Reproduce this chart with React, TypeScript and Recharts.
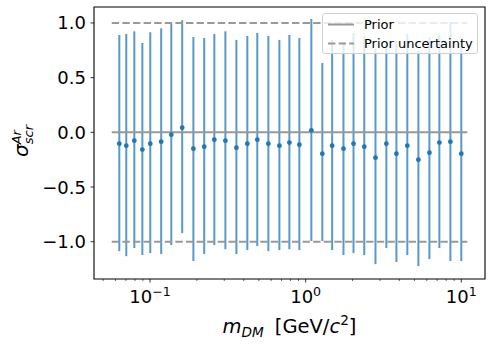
import React from 'react';
import {
  ComposedChart, Scatter, ErrorBar, XAxis, YAxis, ReferenceLine, ReferenceArea,
} from 'recharts';

const masses = [
  0.0635, 0.0704, 0.0793, 0.0893, 0.1004, 0.118, 0.137, 0.161, 0.19, 0.223,
  0.259, 0.305, 0.359, 0.422, 0.489, 0.576, 0.678, 0.786, 0.911, 1.088,
  1.28, 1.48, 1.75, 2.03, 2.38, 2.81, 3.3, 3.83, 4.5, 5.3,
  6.24, 7.23, 8.51, 10.0,
];
const centers = [
  -0.104, -0.122, -0.076, -0.158, -0.104, -0.085, -0.021, 0.043, -0.149, -0.131,
  -0.067, -0.076, -0.14, -0.104, -0.067, -0.104, -0.122, -0.094, -0.113, 0.018,
  -0.195, -0.122, -0.149, -0.104, -0.131, -0.232, -0.104, -0.195, -0.122, -0.25,
  -0.186, -0.094, -0.085, -0.195,
];
const uppers = [
  0.89, 0.899, 0.924, 0.817, 0.915, 0.951, 0.994, 1.025, 0.872, 0.863,
  0.899, 0.924, 0.845, 0.881, 0.909, 0.881, 0.845, 0.89, 0.863, 1.037,
  0.634, 0.845, 0.826, 0.909, 0.881, 0.762, 0.799, 0.835, 0.899, 0.744,
  0.872, 0.89, 1.009, 0.826,
];
const lowers = [
  -1.086, -1.132, -1.058, -1.122, -1.104, -1.113, -1.031, -0.921, -1.177, -1.113,
  -1.031, -1.068, -1.113, -1.077, -1.04, -1.086, -1.077, -1.068, -1.077, -0.994,
  -0.994, -1.077, -1.122, -1.104, -1.122, -1.205, -1.058, -1.186, -1.122, -1.223,
  -1.159, -1.058, -1.177, -1.177,
];
const priorValue = 0;
const priorUncertainty = [1, -1];
const hlineRange = [0.0568, 10.92];
const xDomain = [0.04367, 14.2];
const yDomain = [-1.341, 1.146];
const yTicks = [-1, -0.5, 0, 0.5, 1];
const yTickLabels = ['−1.0', '−0.5', '0.0', '0.5', '1.0'];
const xMajor = [0.1, 1, 10];
const xMajorLabels = ['−1', '0', '1'];
const xMinor = [0.05, 0.06, 0.07, 0.08, 0.09, 0.2, 0.3, 0.4, 0.5, 0.6, 0.7, 0.8, 0.9,
  2, 3, 4, 5, 6, 7, 8, 9];

const data = masses.map((m, i) => ({
  m,
  v: centers[i],
  err: [centers[i] - lowers[i], uppers[i] - centers[i]],
}));

const FONT = 'DejaVu Sans';
const BLUE = '#1f77b4';
const GRAY = '#999999';

const XTick = (props: any) => {
  const { x, y, payload } = props;
  const v = payload.value;
  const mi = xMajor.findIndex((t) => Math.abs(t - v) < 1e-9);
  const major = mi >= 0;
  return (
    <g>
      <line x1={x} x2={x} y1={y} y2={y + (major ? 3.5 : 2)} stroke="#000" strokeWidth={major ? 0.8 : 0.6} />
      {major && (
        <text x={x} y={y + 24} textAnchor="middle" fontFamily={FONT} fontSize={18} fill="#000">
          10<tspan dy={-7} fontSize={12.6}>{xMajorLabels[mi]}</tspan>
        </text>
      )}
    </g>
  );
};

const YTick = (props: any) => {
  const { x, y, payload } = props;
  const i = yTicks.findIndex((t) => Math.abs(t - payload.value) < 1e-9);
  return (
    <g>
      <line x1={x} x2={x - 3.5} y1={y} y2={y} stroke="#000" strokeWidth={0.8} />
      <text x={x - 8} y={y} dy="0.36em" textAnchor="end" fontFamily={FONT} fontSize={18} fill="#000">
        {yTickLabels[i]}
      </text>
    </g>
  );
};

const Dot = (props: any) => {
  const { cx, cy } = props;
  return <circle cx={cx} cy={cy} r={2.4} fill={BLUE} />;
};

export default function App() {
  return (
    <div style={{ position: 'absolute', left: 0, top: 0, width: 492, height: 344, background: '#fff' }}>
      <ComposedChart width={492} height={344} data={data} margin={{ top: 7, right: 7, bottom: 0, left: 0 }}>
        <XAxis
          dataKey="m"
          type="number"
          scale="log"
          domain={xDomain}
          allowDataOverflow
          ticks={[...xMinor, ...xMajor].sort((a, b) => a - b)}
          tick={<XTick />}
          tickLine={false}
          axisLine={false}
          tickSize={0}
          tickMargin={0}
          interval={0}
          height={65}
        />
        <YAxis
          dataKey="v"
          type="number"
          domain={yDomain}
          allowDataOverflow
          ticks={yTicks}
          tick={<YTick />}
          tickLine={false}
          axisLine={false}
          tickSize={0}
          tickMargin={0}
          interval={0}
          width={94}
        />
        <Scatter dataKey="v" isAnimationActive={false} shape={<Dot />}>
          <ErrorBar dataKey="err" direction="y" width={0} stroke={BLUE} strokeOpacity={0.75} strokeWidth={2} isAnimationActive={false} />
        </Scatter>
        <ReferenceLine
          segment={[{ x: hlineRange[0], y: priorValue }, { x: hlineRange[1], y: priorValue }]}
          stroke={GRAY}
          strokeWidth={2}
        />
        {priorUncertainty.map((u) => (
          <ReferenceLine
            key={u}
            segment={[{ x: hlineRange[0], y: u }, { x: hlineRange[1], y: u }]}
            stroke={GRAY}
            strokeWidth={2}
            strokeDasharray="7.4 3.2"
          />
        ))}
        <ReferenceArea
          x1={xDomain[0]}
          x2={xDomain[1]}
          y1={yDomain[0]}
          y2={yDomain[1]}
          fill="none"
          fillOpacity={0}
          stroke="#000"
          strokeWidth={1.1}
          strokeOpacity={1}
          ifOverflow="visible"
        />
      </ComposedChart>
      <svg width={492} height={344} style={{ position: 'absolute', left: 0, top: 0, pointerEvents: 'none' }}>
        <text
          x={28}
          y={141}
          transform="rotate(-90, 28, 141)"
          textAnchor="middle"
          fontFamily={FONT}
          fontStyle="italic"
          fontSize={20}
          fill="#000"
        >
          σ<tspan dy={-7} fontSize={13}>Ar</tspan>
          <tspan dx={-14.2} dy={11.7} fontSize={13}>scr</tspan>
        </text>
        <text x={289.5} y={333} textAnchor="middle" fontFamily={FONT} fontSize={19.5} fill="#000">
          <tspan fontStyle="italic">m</tspan>
          <tspan fontStyle="italic" fontSize={13.6} dy={3.5}>DM</tspan>
          <tspan dy={-3.5} dx={11}>[GeV/</tspan>
          <tspan fontStyle="italic">c</tspan>
          <tspan fontSize={13.6} dy={-8}>2</tspan>
          <tspan dy={8}>]</tspan>
        </text>
      </svg>
      <div
        style={{
          position: 'absolute', left: 322, top: 13, width: 156, height: 41,
          border: '1px solid #d0d0d0', borderRadius: 3, background: 'rgba(255,255,255,0.8)',
          fontFamily: FONT, fontSize: 13, color: '#000', boxSizing: 'border-box',
        }}
      >
        <svg width={30} height={40} style={{ position: 'absolute', left: 4, top: 0 }}>
          <line x1={1} x2={27} y1={10.5} y2={10.5} stroke={GRAY} strokeWidth={2} />
          <line x1={1} x2={27} y1={29.5} y2={29.5} stroke={GRAY} strokeWidth={2} strokeDasharray="7.4 3.2" />
        </svg>
        <div style={{ position: 'absolute', left: 41, top: 2, lineHeight: '17px' }}>Prior</div>
        <div style={{ position: 'absolute', left: 41, top: 21, lineHeight: '17px', whiteSpace: 'nowrap' }}>Prior uncertainty</div>
      </div>
    </div>
  );
}
